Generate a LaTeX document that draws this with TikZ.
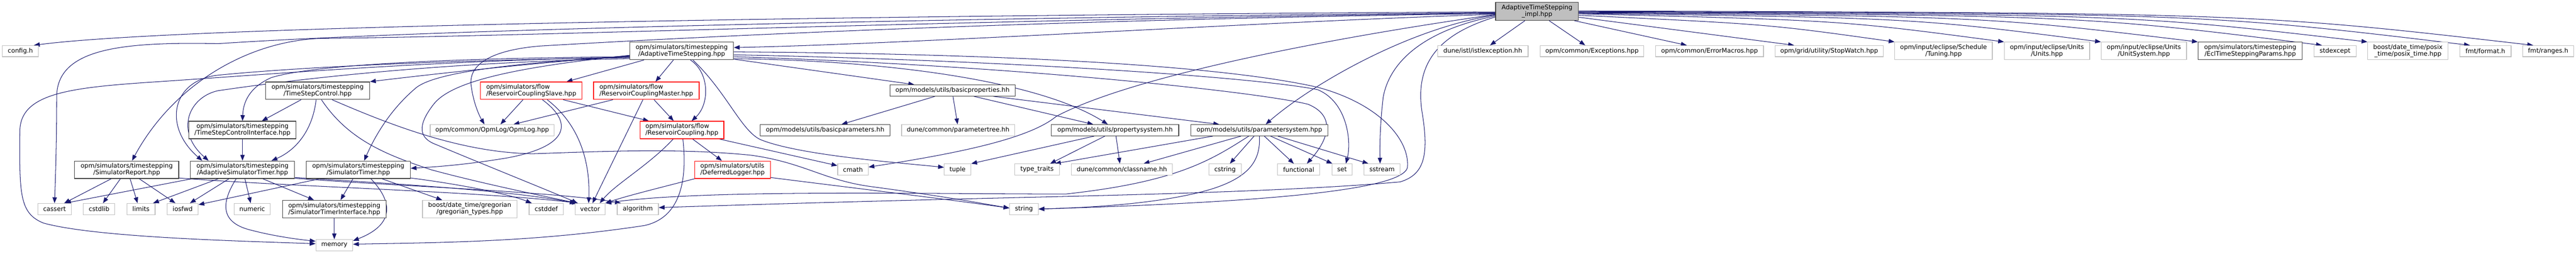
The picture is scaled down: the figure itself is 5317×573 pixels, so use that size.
\documentclass[tikz,border=0pt]{standalone}
\usepackage{fontspec}
\setmainfont{DejaVu Sans}
\usetikzlibrary{arrows.meta,calc}
\pgfdeclarelayer{bg}
\pgfdeclarelayer{edges}
\pgfsetlayers{bg,edges,main}
\definecolor{edgeblue}{HTML}{191970}
\definecolor{docborder}{HTML}{404040}
\definecolor{undocborder}{HTML}{BFBFBF}
\definecolor{rootfill}{HTML}{BFBFBF}
\definecolor{truncred}{HTML}{FF0000}
\begin{document}
\begin{tikzpicture}[x=1pt,y=-1pt,
  nbox/.style={rectangle, inner sep=0pt, fill=white, line width=1.3pt, font=\fontsize{12.9}{13.8}\selectfont, align=center, text=black},
  docnode/.style={nbox, draw=docborder},
  undocnode/.style={nbox, draw=undocborder},
  truncnode/.style={nbox, draw=truncred, align=left},
  rootnode/.style={nbox, draw=docborder, fill=rootfill},
  oneline/.style={minimum height=23pt},
  twoline/.style={minimum height=36pt},
  conn/.style={draw=edgeblue, line width=1.1pt, -{Triangle[length=12pt,width=9pt]}},
]
\useasboundingbox (0,0) rectangle (5317,573);
\begin{pgfonlayer}{bg}
\fill[white] (0,0) rectangle (5317,573);
\end{pgfonlayer}

% ---------- nodes ----------
\node[rootnode, minimum width=171pt, minimum height=37pt] (root) at (3172.5,23.5) {AdaptiveTimeStepping\\\_impl.hpp};
\node[undocnode, oneline, minimum width=74pt] (config) at (42,105.5) {config.h};
\node[docnode, twoline, minimum width=214pt] (ATS) at (1407,105) {opm/simulators/timestepping\\/AdaptiveTimeStepping.hpp};
\node[undocnode, oneline, minimum width=187pt] (istl) at (3060.5,105.5) {dune/istl/istlexception.hh};
\node[undocnode, oneline, minimum width=214pt] (exc) at (3286,105.5) {opm/common/Exceptions.hpp};
\node[undocnode, oneline, minimum width=223pt] (errm) at (3528.5,105.5) {opm/common/ErrorMacros.hpp};
\node[undocnode, oneline, minimum width=223pt] (stopw) at (3775.5,105.5) {opm/grid/utility/StopWatch.hpp};
\node[undocnode, twoline, minimum width=201pt] (tuning) at (4011.5,105) {opm/input/eclipse/Schedule\\/Tuning.hpp};
\node[undocnode, twoline, minimum width=176pt] (units) at (4225,105) {opm/input/eclipse/Units\\/Units.hpp};
\node[undocnode, twoline, minimum width=176pt] (unitsys) at (4425,105) {opm/input/eclipse/Units\\/UnitSystem.hpp};
\node[docnode, twoline, minimum width=215pt] (ecltsp) at (4644.5,105) {opm/simulators/timestepping\\/EclTimeSteppingParams.hpp};
\node[undocnode, oneline, minimum width=87pt] (stdexc) at (4819.5,105.5) {stdexcept};
\node[undocnode, twoline, minimum width=166pt] (posix) at (4970,105) {boost/date\_time/posix\\\_time/posix\_time.hpp};
\node[undocnode, oneline, minimum width=106pt] (format) at (5130,105.5) {fmt/format.h};
\node[undocnode, oneline, minimum width=105pt] (ranges) at (5259.5,105.5) {fmt/ranges.h};

\node[docnode, twoline, minimum width=215pt] (tsc) at (655.5,187) {opm/simulators/timestepping\\/TimeStepControl.hpp};
\node[truncnode, twoline, minimum width=209pt] (rcs) at (1096.5,187) {opm/simulators/flow\\/ReservoirCouplingSlave.hpp};
\node[truncnode, twoline, minimum width=218pt] (rcm) at (1334,187) {opm/simulators/flow\\/ReservoirCouplingMaster.hpp};
\node[docnode, oneline, minimum width=258pt] (bprop) at (1966,186.5) {opm/models/utils/basicproperties.hh};

\node[docnode, twoline, minimum width=221pt] (tsci) at (500.5,268) {opm/simulators/timestepping\\/TimeStepControlInterface.hpp};
\node[undocnode, oneline, minimum width=256pt] (opmlog) at (1016,268.5) {opm/common/OpmLog/OpmLog.hpp};
\node[truncnode, twoline, minimum width=173pt] (rc) at (1407.5,268) {opm/simulators/flow\\/ReservoirCoupling.hpp};
\node[docnode, oneline, minimum width=268pt] (bparam) at (1703,268.5) {opm/models/utils/basicparameters.hh};
\node[undocnode, oneline, minimum width=233pt] (ptree) at (1977.5,268.5) {dune/common/parametertree.hh};
\node[docnode, oneline, minimum width=263pt] (psys) at (2301.5,268.5) {opm/models/utils/propertysystem.hh};
\node[docnode, oneline, minimum width=283pt] (parsys) at (2599.5,268.5) {opm/models/utils/parametersystem.hpp};

\node[docnode, twoline, minimum width=215pt] (simrep) at (261.5,350) {opm/simulators/timestepping\\/SimulatorReport.hpp};
\node[docnode, twoline, minimum width=215pt] (ast) at (500.5,350) {opm/simulators/timestepping\\/AdaptiveSimulatorTimer.hpp};
\node[docnode, twoline, minimum width=215pt] (simt) at (739.5,350) {opm/simulators/timestepping\\/SimulatorTimer.hpp};
\node[truncnode, twoline, minimum width=156pt] (dlog) at (1512,350) {opm/simulators/utils\\/DeferredLogger.hpp};
\node[undocnode, oneline, minimum width=63pt] (cmath) at (1760.5,349.5) {cmath};
\node[undocnode, oneline, minimum width=55pt] (tuple) at (1976.5,349.5) {tuple};
\node[undocnode, oneline, minimum width=93pt] (typet) at (2140.5,349.5) {type\_traits};
\node[undocnode, oneline, minimum width=209pt] (classn) at (2315.5,349.5) {dune/common/classname.hh};
\node[undocnode, oneline, minimum width=67pt] (cstring) at (2528.5,349.5) {cstring};
\node[undocnode, oneline, minimum width=87pt] (functional) at (2680.5,349.5) {functional};
\node[undocnode, oneline, minimum width=42pt] (set) at (2770,349.5) {set};
\node[undocnode, oneline, minimum width=75pt] (sstream) at (2852.5,349.5) {sstream};

\node[undocnode, oneline, minimum width=69pt] (cassert) at (112.5,431) {cassert};
\node[undocnode, oneline, minimum width=65pt] (cstdlib) at (204.5,431) {cstdlib};
\node[undocnode, oneline, minimum width=58pt] (limits) at (291,431) {limits};
\node[undocnode, oneline, minimum width=64pt] (iosfwd) at (377,431) {iosfwd};
\node[undocnode, oneline, minimum width=75pt] (numeric) at (520.5,431) {numeric};
\node[docnode, twoline, minimum width=214pt] (sti) at (690,431) {opm/simulators/timestepping\\/SimulatorTimerInterface.hpp};
\node[undocnode, twoline, minimum width=195pt] (greg) at (969.5,431) {boost/date\_time/gregorian\\/gregorian\_types.hpp};
\node[undocnode, oneline, minimum width=71pt] (cstddef) at (1127.5,431) {cstddef};
\node[undocnode, oneline, minimum width=62pt] (vector) at (1218,431) {vector};
\node[undocnode, oneline, minimum width=85pt] (algorithm) at (1316.5,431) {algorithm};
\node[undocnode, oneline, minimum width=59pt] (string) at (2113.5,431) {string};
\node[undocnode, oneline, minimum width=76pt] (memory) at (690,505.5) {memory};

% ---------- edges ----------
\begin{pgfonlayer}{edges}
% root
\draw[conn] ($(root.west)+(0,1)$) .. controls (2000,30) and (400,50) .. ($(config.north)+(28,0)$);
\draw[conn] ($(root.west)+(0,2.5)$) .. controls (2000,36) and (900,60) .. (450,90) .. controls (250,86) and (117,100) .. (117,200) .. controls (117,300) and (114,380) .. (cassert.north);
\draw[conn] ($(root.west)+(0,3.5)$) .. controls (2000,40) and (1100,75) .. (673,79) .. controls (520,80) and (360,170) .. ($(simrep.north)+(11,0)$);
\draw[conn] ($(root.west)+(0,4.5)$) .. controls (2200,40) and (1500,72) .. (1113,95) .. controls (1000,105) and (965,140) .. (973,180) .. controls (978,215) and (990,240) .. ($(opmlog.north)+(-16,0)$);
\draw[conn] ($(root.west)+(0,6)$) .. controls (2600,45) and (1900,90) .. ($(ATS.east)+(0,-7)$);
\draw[conn] ($(root.west)+(0,7.5)$) .. controls (2900,60) and (2700,180) .. ($(parsys.north)+(13,0)$);
\draw[conn] ($(root.west)+(0,6.5)$) .. controls (2800,70) and (2350,150) .. (2180,240) .. controls (2120,290) and (1950,320) .. ($(cmath.east)+(0,-5)$);
\draw[conn] ($(root.west)+(0,9.5)$) .. controls (2950,60) and (2870,120) .. (2855,200) .. controls (2848,260) and (2848,300) .. ($(sstream.north)+(-4,0)$);
\draw[conn] ($(root.west)+(0,11.5)$) .. controls (2970,70) and (2920,130) .. (2935,230) .. controls (2950,320) and (2940,360) .. (2890,375) .. controls (2700,392) and (2400,400) .. (2200,405) .. controls (1900,412) and (1600,420) .. ($(algorithm.east)+(0,-3)$);
\draw[conn] ($(root.south)+(-25,0)$) -- ($(istl.north)+(15,0)$);
\draw[conn] ($(root.south)+(25,0)$) -- ($(exc.north)+(-14,0)$);
\draw[conn] ($(root.south)+(77,0)$) -- ($(errm.north)+(-47,0)$);
\draw[conn] ($(root.east)+(0,12)$) -- ($(stopw.north)+(-72.5,0)$);
\draw[conn] ($(root.east)+(0,8)$) .. controls (3650,50) .. (tuning.north west);
\draw[conn] ($(root.east)+(0,5)$) .. controls (3800,42) .. (units.north west);
\draw[conn] ($(root.east)+(0,4)$) .. controls (3950,37) .. (unitsys.north west);
\draw[conn] ($(root.east)+(0,3)$) .. controls (4100,34) .. (ecltsp.north west);
\draw[conn] ($(root.east)+(0,2)$) .. controls (4300,32) .. ($(stdexc.north)+(-27,0)$);
\draw[conn] ($(root.east)+(0,1)$) .. controls (4400,30) .. (posix.north west);
\draw[conn] ($(root.east)+(0,0)$) .. controls (4550,28) .. ($(format.north)+(-32,0)$);
\draw[conn] ($(root.east)+(0,-1)$) .. controls (4650,27) .. ($(ranges.north)+(-31,0)$);
% AdaptiveTimeStepping.hpp
\draw[conn] ($(ATS.west)+(0,10)$) .. controls (1100,130) and (900,152) .. (tsc.north east);
\draw[conn] ($(ATS.west)+(0,12)$) .. controls (900,120) and (640,135) .. (560,160) .. controls (515,180) and (502,210) .. (tsci.north);
\draw[conn] ($(ATS.west)+(0,14)$) .. controls (900,124) and (600,140) .. (450,155) .. controls (355,165) and (335,260) .. ($(ast.north)+(-83,0)$);
\draw[conn] ($(ATS.west)+(0,16)$) .. controls (900,128) and (600,165) .. (450,187) .. controls (390,200) and (360,270) .. ($(ast.north)+(-70,0)$);
\draw[conn] ($(ATS.west)+(0,13)$) .. controls (900,125) and (600,150) .. (333,168) .. controls (150,180) and (42,190) .. (41,270) .. controls (40,400) and (40,440) .. (90,460) .. controls (200,490) and (500,497) .. ($(memory.west)+(0,-3)$);
\draw[conn] ($(ATS.west)+(0,11)$) .. controls (1050,130) and (900,150) .. (860,180) .. controls (800,230) and (770,290) .. ($(simt.north)+(12,0)$);
\draw[conn] ($(ATS.west)+(0,9)$) .. controls (1050,140) and (930,170) .. (895,215) .. controls (860,260) and (865,285) .. (900,298) .. controls (1000,340) and (1150,400) .. ($(vector.north)+(-26,0)$);
\draw[conn] ($(ATS.south west)+(30,0)$) -- ($(rcs.north)+(73,0)$);
\draw[conn] ($(ATS.south)+(-17,0)$) -- ($(rcm.north)+(19,0)$);
\draw[conn] ($(ATS.south)+(18,0)$) .. controls (1465,150) and (1465,215) .. ($(rc.north)+(20,0)$);
\draw[conn] ($(ATS.east)+(0,17)$) -- ($(bprop.north)+(-79,0)$);
\draw[conn] ($(ATS.south)+(23,0)$) .. controls (1500,190) and (1530,270) .. (1570,288) .. controls (1650,320) and (1850,335) .. ($(tuple.west)+(0,-4.5)$);
\draw[conn] ($(ATS.east)+(0,16)$) .. controls (1850,125) and (2150,170) .. ($(psys.north)+(-15,0)$);
\draw[conn] ($(ATS.east)+(0,8)$) .. controls (2100,125) and (2600,160) .. (2720,185) .. controls (2780,210) and (2790,290) .. ($(set.north)+(8,0)$);
\draw[conn] ($(ATS.east)+(0,12)$) .. controls (2100,135) and (2600,190) .. (2700,215) .. controls (2760,240) and (2740,290) .. ($(functional.north)+(17,0)$);
\draw[conn] ($(ATS.east)+(0,2)$) .. controls (2000,110) and (2500,130) .. (2720,180) .. controls (2850,215) and (2910,290) .. (2905,345) .. controls (2895,400) and (2500,420) .. (string.east);
% TimeStepControl
\draw[conn] ($(tsc.south)+(-34,0)$) -- ($(tsci.north)+(40,0)$);
\draw[conn] ($(tsc.south)+(-3,0)$) .. controls (645,270) and (610,310) .. ($(ast.north)+(60,0)$);
\draw[conn] ($(tsc.south)+(8,0)$) .. controls (720,290) and (800,320) .. (890,350) .. controls (1000,380) and (1150,410) .. ($(vector.north)+(-28,0)$);
\draw[conn] ($(tsc.south)+(30,0)$) .. controls (800,255) and (950,315) .. (1100,317) .. controls (1250,312) and (1400,305) .. (1550,320) .. controls (1660,335) and (1700,372) .. (1800,385) .. controls (1950,405) and (2030,420) .. ($(string.west)+(0,-2)$);
% TimeStepControlInterface
\draw[conn] (tsci.south) -- (ast.north);
% SimulatorReport
\draw[conn] ($(simrep.south)+(-32,0)$) -- ($(cassert.north)+(20,0)$);
\draw[conn] ($(simrep.south)+(-13,0)$) -- ($(cstdlib.north)+(8,0)$);
\draw[conn] ($(simrep.south)+(7,0)$) -- ($(limits.north)+(-7,0)$);
\draw[conn] ($(simrep.south)+(26,0)$) -- ($(iosfwd.north)+(-15,0)$);
\draw[conn] ($(simrep.east)+(0,17)$) .. controls (600,385) and (1000,395) .. ($(vector.north)+(-25,0)$);
% AdaptiveSimulatorTimer
\draw[conn] ($(ast.south)+(-105,0)$) -- ($(cassert.north)+(22,0)$);
\draw[conn] ($(ast.south)+(-50,0)$) -- ($(limits.north)+(25,0)$);
\draw[conn] ($(ast.south)+(-28,0)$) -- ($(iosfwd.north)+(15,0)$);
\draw[conn] ($(ast.south)+(-13,0)$) .. controls (455,420) and (455,460) .. (520,475) .. controls (570,488) and (620,494) .. ($(memory.north west)+(0,4)$);
\draw[conn] ($(ast.south)+(5,0)$) -- ($(numeric.north)+(-3,0)$);
\draw[conn] ($(ast.south)+(42,0)$) -- ($(sti.north)+(-42,0)$);
\draw[conn] ($(ast.east)+(0,16)$) .. controls (800,378) and (1050,392) .. ($(vector.north)+(-30,0)$);
\draw[conn] ($(ast.east)+(0,17.5)$) .. controls (800,383) and (1150,395) .. ($(algorithm.north)+(-35,0)$);
% SimulatorTimer
\draw[conn] ($(simt.south)+(-80,0)$) -- ($(iosfwd.east)+(0,-9)$);
\draw[conn] ($(simt.south)+(-11,0)$) -- ($(sti.north)+(13,0)$);
\draw[conn] ($(simt.south)+(26,0)$) .. controls (815,420) and (810,465) .. ($(memory.north east)+(0,3)$);
\draw[conn] ($(simt.south)+(49,0)$) -- ($(greg.north)+(-57,0)$);
\draw[conn] ($(simt.east)+(0,17)$) .. controls (950,380) and (1050,400) .. ($(cstddef.north)+(-30,0)$);
% SimulatorTimerInterface
\draw[conn] (sti.south) -- (memory.north);
% ReservoirCouplingSlave
\draw[conn] ($(rcs.south)+(-17,0)$) -- ($(opmlog.north)+(17,0)$);
\draw[conn] ($(rcs.south)+(23,0)$) .. controls (1180,250) and (1180,300) .. (1050,325) .. controls (950,342) and (880,345) .. ($(simt.east)+(0,-3)$);
\draw[conn] ($(rcs.south)+(33,0)$) .. controls (1200,260) and (1218,340) .. ($(vector.north)+(-3,0)$);
\draw[conn] ($(rcs.south)+(66,0)$) -- ($(rc.north west)+(19,0)$);
% ReservoirCouplingMaster
\draw[conn] ($(rcm.south)+(-69,0)$) -- ($(opmlog.north)+(44,0)$);
\draw[conn] ($(rcm.south)+(-7,0)$) -- ($(vector.north)+(5,0)$);
\draw[conn] ($(rcm.south)+(16,0)$) -- ($(rc.north)+(-17,0)$);
% ReservoirCoupling
\draw[conn] ($(rc.south)+(-18,0)$) .. controls (1340,340) and (1270,380) .. ($(vector.north)+(20,0)$);
\draw[conn] ($(rc.south)+(2,0)$) .. controls (1420,380) and (1400,450) .. (1330,465) .. controls (1100,500) and (900,500) .. ($(memory.east)+(0,-2)$);
\draw[conn] ($(rc.south)+(22,0)$) -- ($(dlog.north)+(-22,0)$);
\draw[conn] ($(rc.south east)+(-10,0)$) -- ($(cmath.west)+(0,-8)$);
% DeferredLogger
\draw[conn] (dlog.south west) .. controls (1350,390) and (1290,405) .. (vector.north east);
\draw[conn] ($(dlog.east)+(0,16)$) .. controls (1700,380) and (1950,410) .. ($(string.west)+(0,-2)$);
% basicproperties
\draw[conn] ($(bprop.south)+(-36,0)$) -- ($(bparam.north)+(34,0)$);
\draw[conn] ($(bprop.south)+(1,0)$) -- ($(ptree.north)+(-1,0)$);
\draw[conn] ($(bprop.south)+(44,0)$) -- ($(psys.north)+(-45,0)$);
\draw[conn] ($(bprop.south)+(84,0)$) -- ($(parsys.north)+(-83,0)$);
% propertysystem
\draw[conn] ($(psys.south)+(-43,0)$) -- (tuple.north east);
\draw[conn] ($(psys.south)+(-21,0)$) -- ($(typet.north)+(27,0)$);
\draw[conn] ($(psys.south)+(2,0)$) -- ($(classn.north)+(-4,0)$);
% parametersystem
\draw[conn] ($(parsys.south)+(-96,0)$) -- ($(typet.north)+(37,0)$);
\draw[conn] ($(parsys.south)+(-38,0)$) -- ($(classn.north)+(45,0)$);
\draw[conn] ($(parsys.south)+(-22,0)$) .. controls (2500,330) and (2430,375) .. (2200,400) .. controls (1900,400) and (1450,390) .. (vector.north east);
\draw[conn] ($(parsys.south)+(-11,0)$) -- ($(cstring.north)+(10,0)$);
\draw[conn] (parsys.south) .. controls (2602,330) and (2580,365) .. (2500,390) .. controls (2400,420) and (2250,428) .. (string.east);
\draw[conn] ($(parsys.south)+(10,0)$) -- ($(functional.north)+(-10,0)$);
\draw[conn] ($(parsys.south)+(23,0)$) -- ($(set.north)+(-20,0)$);
\draw[conn] ($(parsys.south)+(38,0)$) -- ($(sstream.north)+(-28,0)$);
\end{pgfonlayer}
\end{tikzpicture}
\end{document}
